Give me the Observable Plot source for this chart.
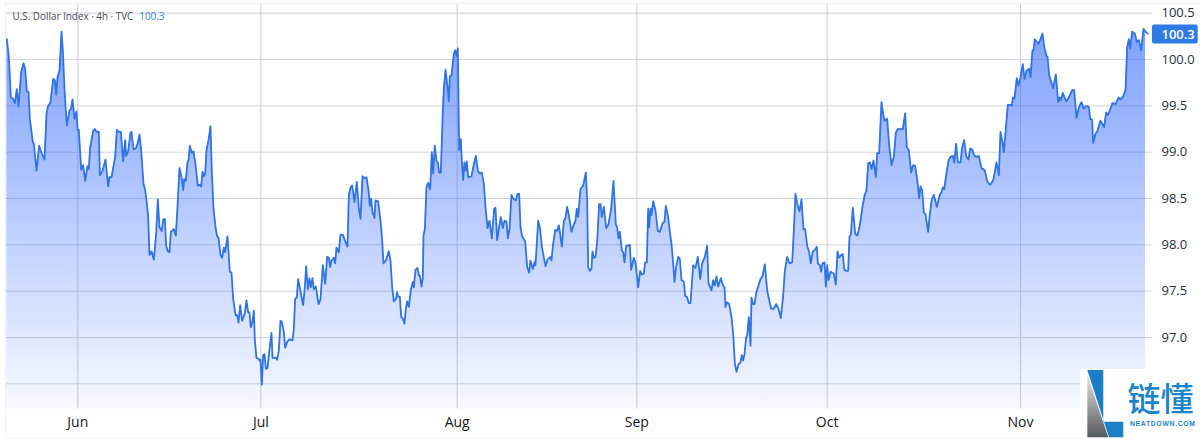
<!DOCTYPE html>
<html>
<head>
<meta charset="utf-8">
<script src="https://cdn.jsdelivr.net/npm/d3@7"></script>
<script src="https://cdn.jsdelivr.net/npm/@observablehq/plot@0.6"></script>
<style>
html,body{margin:0;padding:0;background:#fff}
#wrap{position:relative;width:1200px;height:439px;overflow:hidden}
#frame{position:absolute;left:5px;top:3px;width:1195px;height:434px;border:1px solid #f1f1f3;border-right:none;box-sizing:content-box;pointer-events:none}
#legend{position:absolute;left:12.5px;top:9.5px;font:9.9px/13px "Open Sans",sans-serif;color:#4a4d57;white-space:pre}
#legend span{color:#3f7fdc;margin-left:6px}
#mark{position:absolute;left:1080px;top:369px;width:120px;height:70px;background:#fff}
#mark svg{display:block}
</style>
</head>
<body>
<div id="wrap">
<div id="chart"></div>
<div id="frame"></div>
<div id="legend">U.S. Dollar Index · 4h · TVC<span>100.3</span></div>
<div id="mark">
<svg width="120" height="70" viewBox="1080 369 120 70">
<defs><linearGradient id="lg" x1="0" y1="0" x2="0" y2="1"><stop offset="0" stop-color="#e2e2e2"/><stop offset="1" stop-color="#555a5c"/></linearGradient></defs>
<path d="M1087.3 370H1103.3V421.7H1123.3V437.3H1109Z" fill="#1a7fc4"/>
<path d="M1087.3 375V437.3H1108.3Z" fill="url(#lg)"/>
<text x="1127.5" y="411" font-family="Noto Sans CJK SC" font-size="33" font-weight="500" fill="#1a85c8">链懂</text>
<text x="1130" y="425.5" font-family="Liberation Sans" font-size="6.8" font-weight="700" textLength="65" lengthAdjust="spacing" fill="#1a85c8">NEATDOWN.COM</text>
</svg>
</div>
</div>
<script>
// Position along the session axis (trading time with weekends removed), and the index level.
const hours = [
1,7,13,19,25,31,36,44,51,56,
61,66,70,79,82,90,98,104,114,120,
124,132,140,145,149,153,159,165,169,175,
181,189,194,198,204,210,213,217,224,230,
236,243,247,251,260,265,270,277,280,288,
297,305,309,315,326,331,336,343,350,356,
359,365,372,375,381,388,393,399,404,411,
416,420,425,429,435,442,449,454,459,466,
470,475,479,484,489,493,502,508,513,519,
525,530,533,538,543,546,550,556,561,567,
574,581,584,588,592,596,600,606,612,616,
621,627,632,636,642,647,652,656,663,670,
675,680,687,692,696,701,707,715,720,725,
729,733,738,742,745,750,756,759,762,766,
770,774,778,783,788,795,798,804,808,812,
817,822,826,832,836,842,848,858,862,866,
871,875,881,885,890,895,899,904,909,913,
918,922,928,936,942,949,956,962,967,971,
975,982,986,990,997,1002,1009,1016,1023,1027,
1032,1037,1044,1051,1057,1062,1068,1074,1080,1086,
1090,1094,1098,1104,1107,1115,1122,1127,1131,1138,
1147,1152,1157,1162,1169,1171,1175,1180,1184,1188,
1194,1198,1202,1207,1213,1219,1222,1227,1233,1237,
1240,1245,1249,1251,1255,1260,1265,1271,1276,1280,
1285,1290,1294,1298,1303,1309,1312,1317,1322,1327,
1330,1335,1342,1346,1350,1354,1358,1363,1366,1370,
1374,1377,1381,1385,1395,1402,1408,1414,1420,1426,
1432,1437,1443,1449,1456,1463,1467,1472,1478,1483,
1489,1494,1500,1504,1509,1515,1520,1528,1533,1538,
1542,1547,1556,1562,1568,1572,1579,1585,1587,1595,
1600,1607,1617,1623,1632,1635,1639,1646,1652,1657,
1660,1666,1672,1677,1682,1688,1695,1701,1707,1711,
1715,1722,1730,1738,1742,1745,1750,1755,1758,1762,
1767,1772,1778,1782,1786,1792,1799,1806,1814,1821,
1828,1832,1836,1840,1846,1850,1854,1859,1870,1874,
1882,1887,1895,1901,1906,1912,1916,1921,1925,1928,
1932,1935,1940,1947,1954,1960,1968,1974,1978,1985,
1990,1995,2000,2004,2008,2015,2020,2025,2032,2036,
2041,2047,2052,2060,2067,2074,2081,2087,2095,2102,
2106,2115,2120,2125,2130,2135,2143,2150,2154,2157,
2162,2168,2175,2180,2185,2190,2196,2202,2206,2210,
2214,2219,2222,2227,2232,2235,2240,2244,2249,2254,
2262,2268,2275,2282,2287,2294,2302,2309,2316,2323,
2330,2335,2342,2349,2357,2362,2367,2372,2379,2385,
2391,2396,2402,2408,2413,2419,2424,2431,2434,2440,
2444,2448,2454,2458,2462,2466,2472,2482,2488,2493,
2498,2504,2509,2513,2518,2525,2529,2533,2539,2546,
2553,2560,2567,2574,2580,2585,2590,2595,2601,2608,
2612,2618,2625,2630,2634,2642,2648,2655,2662,2668,
2674,2681,2689,2696,2701,2707,2714,2720,2726,2732,
2738,2742,2747,2752,2757,2765,2770,2776,2782,2791,
2800,2805,2809,2813,2819,2826,2832,2839,2843,2849,
2854,2862,2867,2873,2879,2886,2891,2897,2904,2911,
2917,2923,2926,2930,2935,2942,2949,2954,2961,2970,
2977,2982,2987,2992,2998,3004,3012,3016,3019,3024,
3031,3036,3041,3049,3054,3060,3068,3072,3078,3081,
3085,3091,3096,3102,3108,3114,3120,3123,3128,3134,
3140,3148,3155,3160,3163,3169,3174,3180,3187,3197,
3203,3210,3217,3225,3232,3240,3247,3251,3257,3260,
3267,3272,3282,3287,3293,3299,3304,3310,3318,3327,
3336,3342,3350,3357,3362,3367,3371,3377,3385,3391,
3397,3404,3411,3417,3424
];
const values = [
100.22,100.03,99.59,99.58,99.53,99.68,99.49,99.86,99.96,99.90,
99.66,99.65,99.36,99.11,99.09,98.80,99.07,99.00,98.92,99.41,
99.49,99.54,99.79,99.78,99.62,99.81,99.88,100.30,100.10,99.61,
99.29,99.45,99.47,99.57,99.36,99.44,99.24,99.24,98.81,98.86,
98.69,98.85,98.82,99.05,99.23,99.25,99.22,99.22,98.75,98.80,
98.92,98.63,98.73,98.73,98.95,99.24,99.22,99.22,98.90,99.13,
98.96,99.01,99.21,99.22,99.03,99.04,99.09,99.19,99.02,98.66,
98.59,98.48,98.30,97.89,97.93,97.84,98.12,98.49,98.19,98.15,
98.27,98.28,97.99,97.93,97.92,98.14,98.17,98.10,98.41,98.83,
98.73,98.59,98.71,98.69,98.89,98.91,99.07,98.99,99.01,98.87,
98.64,98.65,98.63,98.79,98.74,98.77,99.02,99.13,99.28,98.80,
98.39,98.19,98.09,98.08,97.89,97.86,97.97,97.92,98.09,97.71,
97.70,97.42,97.24,97.24,97.16,97.35,97.18,97.26,97.40,97.27,
97.27,97.11,97.17,97.29,96.97,96.78,96.77,96.75,96.76,96.49,
96.81,96.82,96.66,96.67,96.84,97.05,96.78,96.78,96.78,96.76,
96.86,97.18,97.17,97.06,96.89,96.95,96.98,96.97,97.09,97.42,
97.43,97.63,97.52,97.44,97.35,97.54,97.77,97.52,97.64,97.54,
97.64,97.52,97.55,97.36,97.41,97.78,97.58,97.87,97.86,97.76,
97.83,97.86,97.80,97.97,97.92,98.11,98.11,98.04,97.98,98.53,
98.62,98.64,98.46,98.68,98.39,98.28,98.74,98.72,98.73,98.59,
98.42,98.50,98.35,98.29,98.48,98.47,98.26,98.05,97.80,97.83,
97.93,97.83,97.54,97.39,97.42,97.49,97.44,97.44,97.22,97.21,
97.15,97.31,97.39,97.33,97.51,97.60,97.54,97.73,97.75,97.67,
97.67,97.55,97.65,98.10,98.17,98.62,98.67,98.60,99.00,98.77,
99.07,98.90,98.89,98.78,98.78,99.45,99.68,99.89,99.74,99.55,
99.82,99.83,100.06,100.10,100.04,100.12,99.02,99.14,98.91,98.70,
98.89,98.80,98.90,98.73,98.74,98.87,98.96,98.80,98.77,98.78,
98.66,98.41,98.18,98.26,98.07,98.39,98.40,98.05,98.19,98.30,
98.18,98.26,98.25,98.07,98.17,98.54,98.50,98.48,98.55,98.55,
98.19,98.09,98.04,97.76,97.70,97.83,97.74,97.82,97.78,98.26,
98.19,97.96,97.77,97.84,97.87,97.83,97.98,98.16,98.15,98.21,
98.14,97.98,98.26,98.29,98.41,98.30,98.14,98.21,98.26,98.39,
98.30,98.60,98.64,98.78,98.48,97.76,97.72,97.74,97.93,97.86,
97.87,98.03,98.44,98.44,98.30,98.41,98.18,98.22,98.39,98.69,
98.22,98.19,98.07,98.14,97.94,97.92,97.81,97.99,98.00,97.73,
97.86,97.81,97.54,97.72,97.68,97.69,97.81,97.81,98.39,98.19,
98.39,98.32,98.47,98.37,98.15,98.14,98.23,98.25,98.42,98.30,
98.14,98.01,97.80,97.60,97.74,97.87,97.85,97.62,97.60,97.45,
97.44,97.37,97.37,97.78,97.75,97.87,97.63,97.80,97.87,97.99,
97.58,97.51,97.62,97.56,97.66,97.55,97.64,97.56,97.54,97.33,
97.38,97.36,97.22,97.04,96.72,96.63,96.71,96.73,96.81,96.75,
96.82,97.00,97.02,97.22,96.91,97.43,97.36,97.36,97.48,97.54,
97.63,97.66,97.79,97.51,97.42,97.31,97.31,97.36,97.31,97.21,
97.45,97.72,97.87,97.80,97.81,98.15,98.55,98.45,98.36,98.49,
98.17,98.17,97.99,97.92,97.80,97.93,97.94,97.98,97.80,97.78,
97.71,97.80,97.81,97.55,97.78,97.62,97.71,97.69,97.57,97.93,
97.86,97.89,97.90,97.74,97.72,97.72,98.09,98.11,98.40,98.12,
98.10,98.21,98.39,98.53,98.59,98.88,98.89,98.82,98.91,98.73,
98.99,98.99,99.54,99.41,99.34,99.36,99.07,98.86,98.95,99.21,
99.25,99.25,99.25,99.42,99.05,99.02,98.78,98.86,98.85,98.71,
98.50,98.63,98.59,98.35,98.33,98.14,98.33,98.49,98.54,98.41,
98.54,98.57,98.62,98.60,98.75,98.91,98.95,98.96,98.89,99.09,
98.89,98.89,99.05,99.13,98.96,98.92,99.04,99.03,98.96,98.95,
98.96,98.86,98.82,98.82,98.80,98.69,98.65,98.66,98.71,98.89,
98.75,99.22,99.13,99.00,99.25,99.51,99.51,99.50,99.59,99.58,
99.80,99.72,99.79,99.95,99.79,99.88,99.90,99.81,100.10,100.10,
100.22,100.19,100.17,100.22,100.28,100.12,100.04,100.03,99.83,99.76,
99.69,99.84,99.54,99.59,99.56,99.64,99.59,99.55,99.59,99.67,
99.67,99.37,99.48,99.54,99.47,99.50,99.49,99.36,99.35,99.10,
99.20,99.22,99.34,99.31,99.27,99.43,99.40,99.45,99.53,99.52,
99.59,99.57,99.60,99.67,100.13,100.22,100.12,100.30,100.28,100.19,
100.21,100.10,100.33,100.30,100.28
];
const monthTicks = [214,763,1352,1891,2462,3042];
const monthLabels = ["Jun","Jul","Aug","Sep","Oct","Nov"];
const yTicks = [97,97.5,98,98.5,99,99.5,100,100.5];
const yGrid = [96.5,97,97.5,98,98.5,99,99.5,100];
const yTop = [100.5];
const lastLevel = 100.27;
const lastLabel = "100.3";
const hourDomain = [0,3438];
const levelDomain = [96.228,100.605];

const rows = hours.map((h,i)=>({h,v:values[i]}));
const font = '"Open Sans",sans-serif';

function gradient(){
  const s = d3.create("svg:defs");
  const g = s.append("linearGradient").attr("id","dxy").attr("x1",0).attr("y1",0).attr("x2",0).attr("y2",1);
  g.append("stop").attr("offset",0).attr("stop-color","#2962ff").attr("stop-opacity",0.6);
  g.append("stop").attr("offset",1).attr("stop-color","#2962ff").attr("stop-opacity",0.04);
  return s.node();
}

const chart = Plot.plot({
  width:1200,height:439,
  marginLeft:6,marginRight:48,marginTop:3,marginBottom:30.5,
  style:{background:"#fff",fontFamily:font,fontSize:"13px"},
  x:{type:"linear",domain:hourDomain},
  y:{type:"linear",domain:levelDomain},
  marks:[
    gradient,
    Plot.gridY(yTop,{stroke:"#e3e3e6",strokeWidth:2,strokeOpacity:1}),
    Plot.gridY(yGrid,{stroke:"#d3d4da",strokeOpacity:1,strokeWidth:1}),
    Plot.gridX(monthTicks,{stroke:"#cfd0d8",strokeOpacity:1,strokeWidth:1.1}),
    Plot.axisX({ticks:monthTicks,tickFormat:d=>monthLabels[monthTicks.indexOf(d)],tickSize:0,tickPadding:8,fill:"#131722",label:null,fontWeight:500,fontSize:14}),
    Plot.axisY({ticks:yTicks,tickFormat:".1f",anchor:"right",tickSize:0,tickPadding:9,fill:"#2a2e39",label:null,fontSize:13}),
    Plot.areaY(rows.slice(0,-1),{x:"h",y1:levelDomain[0],y2:"v",fill:"url(#dxy)"}),
    Plot.lineY(rows,{x:"h",y:"v",stroke:"#2f74e2",strokeWidth:1.8,strokeLinejoin:"round"}),
    Plot.rect([lastLevel],{x1:hourDomain[1],x2:hourDomain[1]+137,y1:d=>d-0.103,y2:d=>d+0.103,fill:"#2f7be6",rx:2}),
    Plot.text([lastLabel],{x:hourDomain[1]+27,y:lastLevel,text:d=>d,textAnchor:"start",fill:"#fff",fontSize:13,fontWeight:600})
  ]
});
document.getElementById("chart").appendChild(chart);
</script>
</body>
</html>
